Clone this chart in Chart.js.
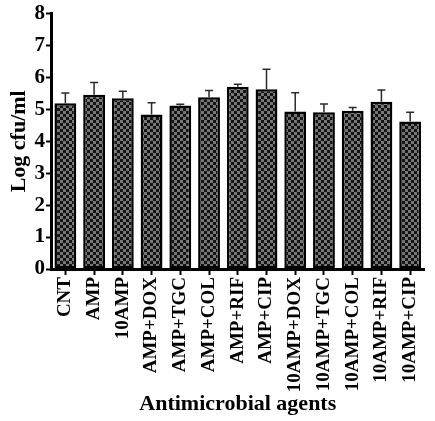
<!DOCTYPE html>
<html lang="en">
<head>
    <meta charset="UTF-8">
    <title>Log cfu/ml by antimicrobial agent</title>
    <script src="https://cdn.jsdelivr.net/npm/chart.js@4.4.0/dist/chart.umd.min.js"></script>
    <style>
        html, body { margin: 0; padding: 0; background: #fff; }
        #wrap { width: 435px; height: 421px; }
    </style>
</head>
<body>
    <div id="wrap"><canvas id="chart" width="435" height="421"></canvas></div>

    <script>
        const agents = ['CNT', 'AMP', '10AMP', 'AMP+DOX', 'AMP+TGC', 'AMP+COL', 'AMP+RIF', 'AMP+CIP',
                        '10AMP+DOX', '10AMP+TGC', '10AMP+COL', '10AMP+RIF', '10AMP+CIP'];
        const logCfu = [5.19, 5.46, 5.35, 4.84, 5.12, 5.38, 5.71, 5.63, 4.93, 4.91, 4.96, 5.24, 4.62];
        const errUp = [0.32, 0.38, 0.22, 0.37, 0.04, 0.21, 0.08, 0.63, 0.59, 0.26, 0.10, 0.37, 0.29];
        const yTicks = [0, 1, 2, 3, 4, 5, 6, 7, 8];

        const serif = '"Liberation Serif", "DejaVu Serif", serif';

        // checkerboard fill like the original figure
        function checker() {
            const c = document.createElement('canvas');
            c.width = 6; c.height = 6;
            const g = c.getContext('2d');
            g.fillStyle = '#141414';
            g.fillRect(0, 0, 6, 6);
            g.fillStyle = '#767676';
            g.fillRect(0, 0, 3, 3);
            g.fillRect(3, 3, 3, 3);
            return document.getElementById('chart').getContext('2d').createPattern(c, 'repeat');
        }

        // upper error bars only
        const errorBars = {
            id: 'errorBars',
            afterDatasetsDraw(chart) {
                const ctx = chart.ctx;
                const meta = chart.getDatasetMeta(0);
                const y = chart.scales.y;
                ctx.save();
                ctx.strokeStyle = '#2a2a2a';
                ctx.lineWidth = 1.5;
                meta.data.forEach((bar, i) => {
                    const top = y.getPixelForValue(logCfu[i]);
                    const end = y.getPixelForValue(logCfu[i] + errUp[i]);
                    ctx.beginPath();
                    ctx.moveTo(bar.x, top);
                    ctx.lineTo(bar.x, end);
                    ctx.moveTo(bar.x - 4, end);
                    ctx.lineTo(bar.x + 4, end);
                    ctx.stroke();
                });
                ctx.restore();
            }
        };

        new Chart(document.getElementById('chart'), {
            type: 'bar',
            data: {
                labels: agents,
                datasets: [{
                    data: logCfu,
                    backgroundColor: checker(),
                    borderColor: '#000',
                    borderWidth: 2.5,
                    borderSkipped: false,
                    categoryPercentage: 0.76,
                    barPercentage: 1.0
                }]
            },
            options: {
                responsive: false,
                animation: false,
                layout: { padding: { top: 13, right: 1, left: 0, bottom: 0 } },
                plugins: {
                    legend: { display: false },
                    tooltip: { enabled: false }
                },
                scales: {
                    x: {
                        grid: { offset: false, drawOnChartArea: false, drawTicks: true, tickLength: 6, tickWidth: 2, color: '#000' },
                        border: { display: true, width: 3, color: '#000' },
                        ticks: {
                            color: '#000', padding: 2, autoSkip: false,
                            minRotation: 90, maxRotation: 90,
                            font: { family: serif, size: 19, weight: 'bold' }
                        },
                        title: {
                            display: true, text: 'Antimicrobial agents', color: '#000',
                            padding: { top: 0, bottom: 3 },
                            font: { family: serif, size: 22, weight: 'bold' }
                        },
                        afterFit(scale) { scale.height = 152; }
                    },
                    y: {
                        min: 0, max: 8,
                        afterBuildTicks(scale) { scale.ticks = yTicks.map(v => ({ value: v })); },
                        grid: { drawOnChartArea: false, drawTicks: true, tickLength: 5, tickWidth: 2, color: '#000' },
                        border: { display: true, width: 3, color: '#000' },
                        ticks: {
                            color: '#000', padding: 1,
                            font: { family: serif, size: 21, weight: 'bold' }
                        },
                        title: {
                            display: true, text: 'Log cfu/ml', color: '#000',
                            padding: { top: 6, bottom: 0 },
                            font: { family: serif, size: 22, weight: 'bold' }
                        },
                        afterFit(scale) { scale.width = 51; }
                    }
                }
            },
            plugins: [errorBars]
        });
    </script>
</body>
</html>
